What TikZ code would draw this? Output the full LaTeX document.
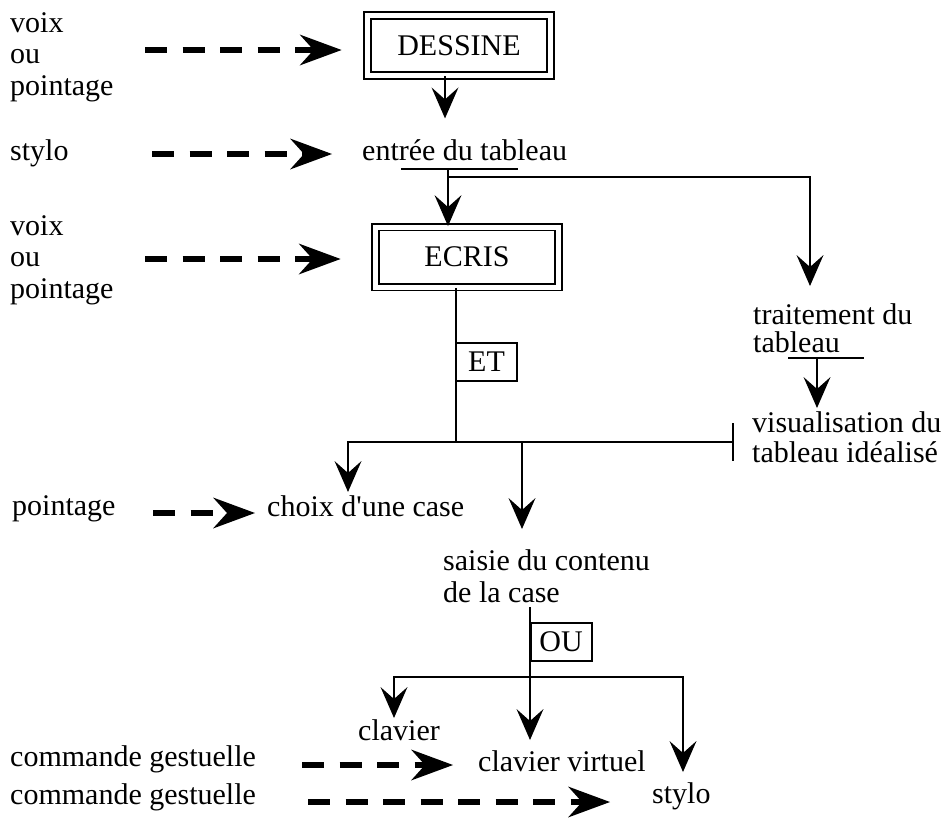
\documentclass[tikz,border=0pt]{standalone}
\usepackage{fontspec}
\setmainfont{Liberation Serif}
\usetikzlibrary{arrows.meta}

\tikzset{
  txt/.style={inner sep=0pt, anchor=base west, align=left},
  boxed/.style={draw, double, line width=1.8pt, double distance=5pt,
    minimum width=183pt, minimum height=60pt, inner sep=0pt},
  opbox/.style={draw, line width=2pt, inner sep=0pt,
    minimum width=61pt, minimum height=38pt},
  link/.style={line width=2.4pt},
  flow/.style={link, -{Stealth[length=31pt, width=27pt, inset=12pt, line width=0pt]}},
  input/.style={line width=6pt, dash pattern=on 22pt off 15.5pt,
    -{Stealth[length=42pt, width=31pt, inset=14pt, line width=0pt]}},
}

\begin{document}
\begin{tikzpicture}[x=1pt, y=-1pt, font=\fontsize{30}{31.5}\selectfont]
  \useasboundingbox (0,0) rectangle (950,819);

  % texts and boxes (multi-line texts sit on their last line)
  \node[txt] (voixA) at (10,95) {voix\\ou\\pointage};
  \node[boxed] (dessine) at (459,45.5) {DESSINE};
  \node[txt] (styloA) at (10,160) {stylo};
  \node[txt] (entree) at (362,160) {entrée du tableau};
  \node[txt] (voixB) at (10,298) {voix\\ou\\pointage};
  \node[boxed] (ecris) at (467,257) {ECRIS};
  \node[txt, font=\fontsize{30}{28}\selectfont] (traitement) at (753,352) {traitement du\\tableau};
  \node[opbox] (et) at (486.5,361.5) {ET};
  \node[txt, font=\fontsize{30}{30}\selectfont] (visu) at (752,462) {visualisation du\\tableau idéalisé};
  \node[txt] (pointage) at (12,515) {pointage};
  \node[txt] (choix) at (267,516) {choix d\textquotesingle une case};
  \node[txt, font=\fontsize{30}{32}\selectfont] (saisie) at (443,602) {saisie du contenu\\de la case};
  \node[opbox] (ou) at (561,641.5) {OU};
  \node[txt] (clavier) at (358,740) {clavier};
  \node[txt] (virtuel) at (478,771) {clavier virtuel};
  \node[txt] (styloB) at (652,803) {stylo};
  \node[txt] (gesteA) at (10,766) {commande gestuelle};
  \node[txt] (gesteB) at (10,804) {commande gestuelle};

  % points on the connectors
  \coordinate (inA) at (145,50);
  \coordinate (inB) at (152,154);
  \coordinate (inC) at (145,259);
  \coordinate (inD) at (153,513);
  \coordinate (inE) at (302,765);
  \coordinate (inF) at (308,802);
  \coordinate (split) at (448,169);
  \coordinate (fork) at (448,177);
  \coordinate (traitTip) at (810,286);
  \coordinate (traitBar) at (817,358);
  \coordinate (join) at (456,442);
  \coordinate (visuBar) at (734,442);
  \coordinate (choixTip) at (348,492);
  \coordinate (saisieTip) at (522,529);
  \coordinate (saisieOut) at (530,607);
  \coordinate (joinB) at (530,677);
  \coordinate (clavTip) at (394,718);
  \coordinate (virtTip) at (530,740);
  \coordinate (styloTip) at (683,772);

  % dashed inputs
  \draw[input, shorten >=25pt] (inA) -- (inA -| dessine.west);
  \draw[input, shorten >=30pt] (inB) -- (inB -| entree.west);
  \draw[input, shorten >=34pt] (inC) -- (inC -| ecris.west);
  \draw[input, shorten >=12pt] (inD) -- (inD -| choix.west);
  \draw[input, shorten >=25pt] (inE) -- (inE -| virtuel.west);
  \draw[input, shorten >=42pt] (inF) -- (inF -| styloB.west);

  % flow
  \draw[flow] ([xshift=-14pt]dessine.south) -- ++(0,42);
  \draw[link] ([shift={(39,9)}]entree.base west) -- ++(117,0);
  \draw[flow] (split) -- (split |- ecris.north);
  \draw[flow] (fork) -| (traitTip);
  \draw[link] (788,358) -- (864,358);
  \draw[flow] (traitBar) -- ++(0,50);
  \draw[link] (ecris.south -| join) -- (join);
  \draw[link, -{Bar[width=38pt]}] (join) -- (visuBar);
  \draw[flow] (join) -| (choixTip);
  \draw[flow] (join -| saisieTip) -- (saisieTip);
  \draw[link] (saisieOut) -- (joinB);
  \draw[flow] (joinB) -| (clavTip);
  \draw[flow] (joinB) -- (virtTip);
  \draw[flow] (joinB) -| (styloTip);
\end{tikzpicture}
\end{document}
